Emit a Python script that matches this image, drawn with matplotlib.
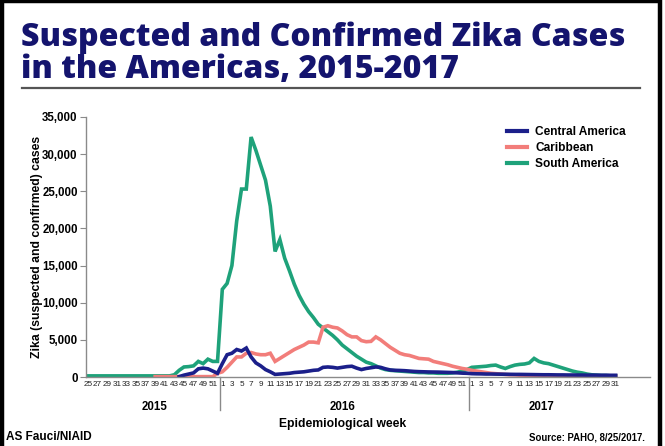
import numpy as np
import matplotlib
matplotlib.use("Agg")
import matplotlib.pyplot as plt
from matplotlib.lines import Line2D
from matplotlib.patches import Rectangle

plt.rcParams["font.family"] = ["Liberation Sans", "DejaVu Sans"]

NAVY = "#1b1f8a"
PINK = "#f27d7a"
TEAL = "#1ea27a"
TITLE = "#14146e"
GRAY = "#8a8a8a"

# epidemiological weeks shown on the axis
weeks_2015 = list(range(25, 53))
weeks_2016 = list(range(1, 53))
weeks_2017 = list(range(1, 32))
years = ["2015", "2016", "2017"]

nan = np.nan
south_america = (
    [150] * 18
    + [300, 900, 1350, 1400, 1500, 2100, 1800, 2400, 2100, 2100]
    + [11800, 12600, 15000, 21000, 25300, 25300, 32300, 30500, 28500, 26500,
       23000, 16900, 18500, 16000, 14300, 12500, 11000, 9800, 8800, 8000,
       7100, 6600, 6100, 5600, 5000, 4300, 3800, 3300, 2800, 2400,
       2000, 1800, 1500, 1200, 1000, 900, 850, 800, 750, 700,
       650, 600, 600, 550, 550, 500, 500, 500, 550, 650, 800, 1000]
    + [1300, 1350, 1400, 1450, 1550, 1600, 1350, 1150, 1400, 1600,
       1700, 1750, 1900, 2500, 2100, 1900, 1800, 1600, 1400, 1200,
       1000, 800, 650, 550, 400, 300, 250, 200, 200, 150, 150]
)
caribbean = (
    [nan] * 14
    + [50] * 13 + [500]
    + [700, 1300, 2000, 2700, 2700, 3200, 3300, 3100, 3000, 3000,
       3200, 2100, 2500, 2900, 3300, 3700, 4000, 4300, 4700, 4700,
       4600, 6700, 6900, 6700, 6600, 6200, 5700, 5400, 5400, 4900,
       4750, 4800, 5400, 5000, 4500, 4000, 3600, 3200, 3000, 2900,
       2700, 2500, 2450, 2400, 2100, 1950, 1800, 1650, 1450, 1300, 1150, 1050]
    + [900, 800, 700, 600, 500, 450, 400, 350, 300, 300,
       250, 250, 200, 200, 200] + [150] * 16
)
central_america = (
    [nan] * 19
    + [50, 250, 400, 550, 1100, 1200, 1100, 800, 500]
    + [1800, 3000, 3200, 3700, 3500, 3900, 2700, 1900, 1500, 1000,
       700, 350, 400, 450, 500, 600, 650, 700, 800, 900,
       950, 1300, 1350, 1300, 1200, 1300, 1400, 1450, 1200, 1000,
       1150, 1250, 1350, 1300, 1100, 950, 900, 880, 850, 800,
       750, 720, 700, 680, 670, 660, 640, 620, 600, 560, 520, 500]
    + [450, 430, 420, 400, 400, 390, 380, 370, 360, 350,
       350, 340, 330, 320, 310, 300, 300, 290, 280, 280,
       270, 270, 260, 260, 250, 250, 250, 240, 240, 230, 230]
)

all_weeks = weeks_2015 + weeks_2016 + weeks_2017
x = np.arange(len(all_weeks))
n15, n16 = len(weeks_2015), len(weeks_2016)

fig = plt.figure(figsize=(6.65, 4.46), dpi=100)
fig.patch.set_facecolor("white")

# frame around the slide
fig.add_artist(Rectangle((0.003, -0.05), 0.99, 1.047, transform=fig.transFigure,
                         fill=False, ec="black", lw=3.2))

title_font = dict(fontsize=23, fontweight=800, color=TITLE, ha="left",
                  va="baseline", family=["Open Sans", "Liberation Sans"])
fig.text(0.031, 0.897, "Suspected and Confirmed Zika Cases", **title_font)
fig.text(0.031, 0.824, "in the Americas, 2015-2017", **title_font)
fig.add_artist(Line2D([0.033, 0.963], [0.803, 0.803], transform=fig.transFigure,
                      color="#555555", lw=1.6))

ax = fig.add_axes([0.1293, 0.1547, 0.8477, 0.583])
ax.plot(x, south_america, color=TEAL, lw=2.6, solid_joinstyle="miter")
ax.plot(x, caribbean, color=PINK, lw=2.6, solid_joinstyle="miter")
ax.plot(x, central_america, color=NAVY, lw=2.6, solid_joinstyle="miter")

ax.set_xlim(-0.42, 117.1)
ax.set_ylim(0, 35000)
for s in ["top", "right"]:
    ax.spines[s].set_visible(False)
for s in ["left", "bottom"]:
    ax.spines[s].set_color(GRAY)
    ax.spines[s].set_linewidth(1.0)

yt = np.arange(0, 35001, 5000)
ax.set_yticks(yt, [f"{v:,}" for v in yt], fontsize=8.3, fontweight="bold")
ax.tick_params(axis="y", length=4, color=GRAY, pad=2)

xt = [i for i, w in enumerate(all_weeks) if w % 2 == 1]
ax.set_xticks(xt, [str(all_weeks[i]) for i in xt], fontsize=5.9,
              family=["Liberation Sans Narrow", "Liberation Sans"])
ax.tick_params(axis="x", length=0, pad=3, labelcolor="#222222")

ax.set_ylabel("Zika (suspected and confirmed) cases", fontsize=8.8,
              fontweight="bold", labelpad=-1)

# year separators and labels
trans = ax.get_xaxis_transform()
for b in [n15 - 0.5, n15 + n16 - 0.5]:
    ax.plot([b, b], [0, -0.125], transform=trans, color=GRAY, lw=1, clip_on=False)
centers = [13.9, 53.0, 94.5]
for lab, c in zip(years, centers):
    ax.text(c, -0.115, lab, transform=trans, ha="center", va="center",
            fontsize=8.3, fontweight="bold")
ax.text(53.0, -0.18, "Epidemiological week", transform=trans, ha="center",
        va="center", fontsize=8.7, fontweight="bold")

handles = [Line2D([], [], color=NAVY, lw=3),
           Line2D([], [], color=PINK, lw=3),
           Line2D([], [], color=TEAL, lw=3)]
ax.legend(handles, ["Central America", "Caribbean", "South America"],
          loc="upper left", bbox_to_anchor=(0.7465, 0.965), frameon=False,
          borderpad=0, borderaxespad=0,
          prop={"size": 8.6, "weight": "bold"}, handlelength=1.7,
          handletextpad=0.67, labelspacing=0.35)

fig.text(0.009, 0.02, "AS Fauci/NIAID", fontsize=8.5, fontweight="bold",
         ha="left", va="center")
fig.text(0.970, 0.02, "Source: PAHO, 8/25/2017.", fontsize=6.9,
         fontweight="bold", ha="right", va="center")

fig.savefig("out.png", dpi=100, facecolor="white")
